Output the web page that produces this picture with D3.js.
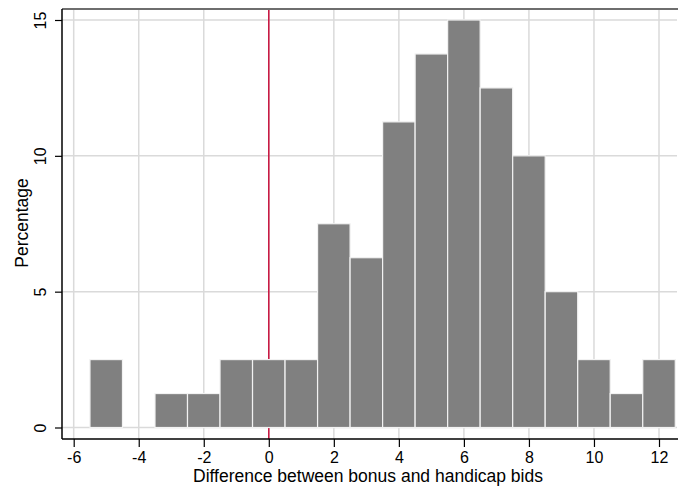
<!DOCTYPE html>
<html>
<head>
<meta charset="utf-8">
<script src="https://cdn.jsdelivr.net/npm/d3@7"></script>
<style>
  body { margin: 0; background: #fff; }
  text { font-family: "Liberation Sans", Arial, sans-serif; fill: #000; }
</style>
</head>
<body>
<div id="chart"></div>
<script>
// Bin centers (width 1) and percentages
const bins = [-5, -4, -3, -2, -1, 0, 1, 2, 3, 4, 5, 6, 7, 8, 9, 10, 11, 12];
const pct = [2.5, 0, 1.25, 1.25, 2.5, 2.5, 2.5, 7.5, 6.25, 11.25, 13.75, 15, 12.5, 10, 5, 2.5, 1.25, 2.5];
const xTicks = [-6, -4, -2, 0, 2, 4, 6, 8, 10, 12];
const yTicks = [0, 5, 10, 15];
const refLine = 0;

const width = 678, height = 490;
const plot = { left: 62, right: 677, top: 9, bottom: 439 };

const svg = d3.select('#chart')
  .append('svg')
  .attr('width', width)
  .attr('height', height);

const x = d3.scaleLinear()
  .domain([-6, 12])
  .range([73.7, 659]);

const y = d3.scaleLinear()
  .domain([0, 15])
  .range([427.5, 20]);

// grid
svg.append('g')
  .selectAll('line')
  .data(xTicks)
  .enter()
  .append('line')
  .attr('x1', d => x(d)).attr('x2', d => x(d))
  .attr('y1', plot.top + 1).attr('y2', plot.bottom)
  .attr('stroke', '#dadada')
  .attr('stroke-width', 1.5);

svg.append('g')
  .selectAll('line')
  .data(yTicks)
  .enter()
  .append('line')
  .attr('x1', plot.left).attr('x2', plot.right)
  .attr('y1', d => y(d)).attr('y2', d => y(d))
  .attr('stroke', '#dadada')
  .attr('stroke-width', 1.5);

// reference line at 0
svg.append('line')
  .attr('x1', x(refLine)).attr('x2', x(refLine))
  .attr('y1', plot.top + 1).attr('y2', plot.bottom)
  .attr('stroke', '#c8103c')
  .attr('stroke-width', 1.5);

// bars
svg.append('g')
  .selectAll('rect')
  .data(bins)
  .enter()
  .append('rect')
  .attr('x', d => x(d - 0.5))
  .attr('width', x(1) - x(0))
  .attr('y', (d, i) => y(pct[i]))
  .attr('height', (d, i) => y(0) - y(pct[i]))
  .attr('fill', '#808080')
  .attr('stroke', '#f2f2f2')
  .attr('stroke-width', 1.2);

// top border
svg.append('line')
  .attr('x1', plot.left).attr('x2', plot.right + 1)
  .attr('y1', plot.top).attr('y2', plot.top)
  .attr('stroke', '#6e6e6e')
  .attr('stroke-width', 2);

// x axis
const xAxis = svg.append('g')
  .attr('transform', `translate(0,${plot.bottom})`)
  .call(d3.axisBottom(x).tickValues(xTicks).tickSize(8).tickPadding(5).tickFormat(d3.format('d')));
xAxis.select('.domain').remove();
xAxis.append('line')
  .attr('x1', plot.left).attr('x2', plot.right + 1)
  .attr('stroke', '#000').attr('stroke-width', 1.5);
xAxis.selectAll('.tick line').attr('stroke', '#000').attr('stroke-width', 1.2);
xAxis.selectAll('.tick text')
  .style('font-size', '16px')
  .style('font-family', '"Liberation Sans", Arial, sans-serif')
  .attr('fill', '#000')
  .text(d => d < 0 ? '-' + Math.abs(d) : d);

// y axis
const yAxis = svg.append('g')
  .attr('transform', `translate(${plot.left},0)`)
  .call(d3.axisLeft(y).tickValues(yTicks).tickSize(7).tickPadding(0));
yAxis.select('.domain').remove();
yAxis.append('line')
  .attr('y1', plot.top).attr('y2', plot.bottom)
  .attr('stroke', '#000').attr('stroke-width', 1.5);
yAxis.selectAll('.tick line').attr('stroke', '#000').attr('stroke-width', 1.2);
yAxis.selectAll('.tick text')
  .style('font-size', '16px')
  .style('font-family', '"Liberation Sans", Arial, sans-serif')
  .attr('fill', '#000')
  .attr('x', 0)
  .attr('dy', 0)
  .attr('text-anchor', 'middle')
  .attr('transform', 'translate(-16,0) rotate(-90)');

// axis titles
svg.append('text')
  .attr('x', 368)
  .attr('y', 482)
  .attr('text-anchor', 'middle')
  .style('font-size', '17.5px')
  .text('Difference between bonus and handicap bids');

svg.append('text')
  .attr('transform', `translate(28,223) rotate(-90)`)
  .attr('text-anchor', 'middle')
  .style('font-size', '17.5px')
  .text('Percentage');
</script>
</body>
</html>
